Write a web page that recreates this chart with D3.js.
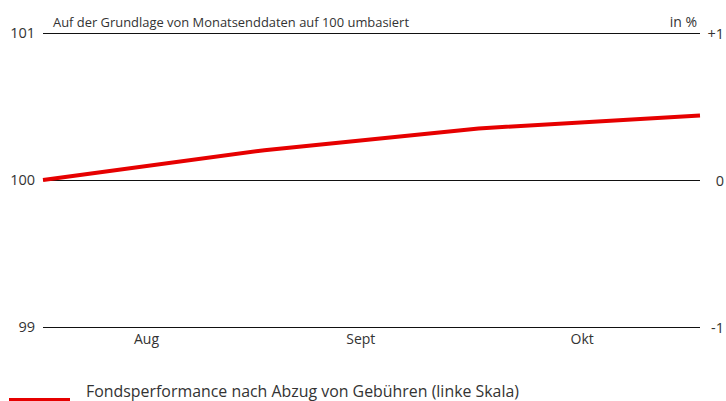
<!DOCTYPE html>
<html>
<head>
<meta charset="utf-8">
<script src="https://cdn.jsdelivr.net/npm/d3@7"></script>
<style>
  body { margin: 0; background: #fff; }
  text { font-family: "Open Sans", "Noto Sans", sans-serif; fill: #333; }
</style>
</head>
<body>
<div id="chart"></div>
<script>
// month-end values, rebased to 100
var dates = ["2023-07-31 00:00", "2023-08-31 00:00", "2023-09-30 00:00", "2023-10-31 00:00"];
var values = [100, 100.203, 100.351, 100.439];

var leftTicks = [99, 100, 101];
var leftTickLabels = ["99", "100", "101"];
var rightTickLabels = ["-1", "0", "+1"];
var monthTicks = ["2023-08-14 12:00", "2023-09-13 12:00", "2023-10-14 12:00"];
var monthLabels = ["Aug", "Sept", "Okt"];

var title = "Auf der Grundlage von Monatsenddaten auf 100 umbasiert";
var unitLabel = "in %";
var legendLabel = "Fondsperformance nach Abzug von Gebühren (linke Skala)";

var width = 726;
var height = 401;
var margin = { top: 33, left: 43, right: 26, bottom: 74 };

var parse = d3.timeParse("%Y-%m-%d %H:%M");
var data = dates.map(function(d, i) { return { date: parse(d), value: values[i] }; });

var svg = d3.select("#chart")
  .append("svg")
    .attr("width", width)
    .attr("height", height);

var x = d3.scaleTime()
  .domain(d3.extent(data, function(d) { return d.date; }))
  .range([margin.left, width - margin.right]);

var y = d3.scaleLinear()
  .domain([99, 101])
  .range([height - margin.bottom, margin.top]);

// horizontal grid lines
svg.append("g")
  .selectAll("line")
  .data(leftTicks)
  .enter()
  .append("line")
  .attr("x1", x.range()[0])
  .attr("x2", x.range()[1])
  .attr("y1", function(d) { return Math.round(y(d)) + 0.5; })
  .attr("y2", function(d) { return Math.round(y(d)) + 0.5; })
  .attr("stroke", "#111")
  .attr("stroke-width", 1);

// left scale
svg.append("g")
  .selectAll("text")
  .data(leftTicks)
  .enter()
  .append("text")
  .attr("x", 35)
  .attr("y", function(d) { return y(d) + 5; })
  .attr("text-anchor", "end")
  .style("font-size", "14.5px")
  .text(function(d, i) { return leftTickLabels[i]; });

// right scale
svg.append("g")
  .selectAll("text")
  .data(leftTicks)
  .enter()
  .append("text")
  .attr("x", 724)
  .attr("y", function(d) { return y(d) + 6; })
  .attr("text-anchor", "end")
  .style("font-size", "14.5px")
  .text(function(d, i) { return rightTickLabels[i]; });

// month labels
svg.append("g")
  .selectAll("text")
  .data(monthTicks)
  .enter()
  .append("text")
  .attr("x", function(d) { return x(parse(d)); })
  .attr("y", 344)
  .attr("text-anchor", "middle")
  .style("font-size", "14px")
  .text(function(d, i) { return monthLabels[i]; });

// title and unit
svg.append("text")
  .attr("x", 53)
  .attr("y", 27)
  .style("font-size", "13.5px")
  .attr("textLength", 356)
  .attr("lengthAdjust", "spacingAndGlyphs")
  .text(title);

svg.append("text")
  .attr("x", 697)
  .attr("y", 27)
  .attr("text-anchor", "end")
  .style("font-size", "14px")
  .text(unitLabel);

// performance line
svg.append("path")
  .datum(data)
  .attr("fill", "none")
  .attr("stroke", "#e60000")
  .attr("stroke-width", 4)
  .attr("d", d3.line()
    .x(function(d) { return x(d.date); })
    .y(function(d) { return y(d.value); })
  );

// legend
svg.append("rect")
  .attr("x", 9)
  .attr("y", 398)
  .attr("width", 61)
  .attr("height", 4)
  .attr("fill", "#e60000");

svg.append("text")
  .attr("x", 86)
  .attr("y", 397)
  .style("font-size", "15.5px")
  .attr("textLength", 433)
  .attr("lengthAdjust", "spacingAndGlyphs")
  .text(legendLabel);
</script>
</body>
</html>
